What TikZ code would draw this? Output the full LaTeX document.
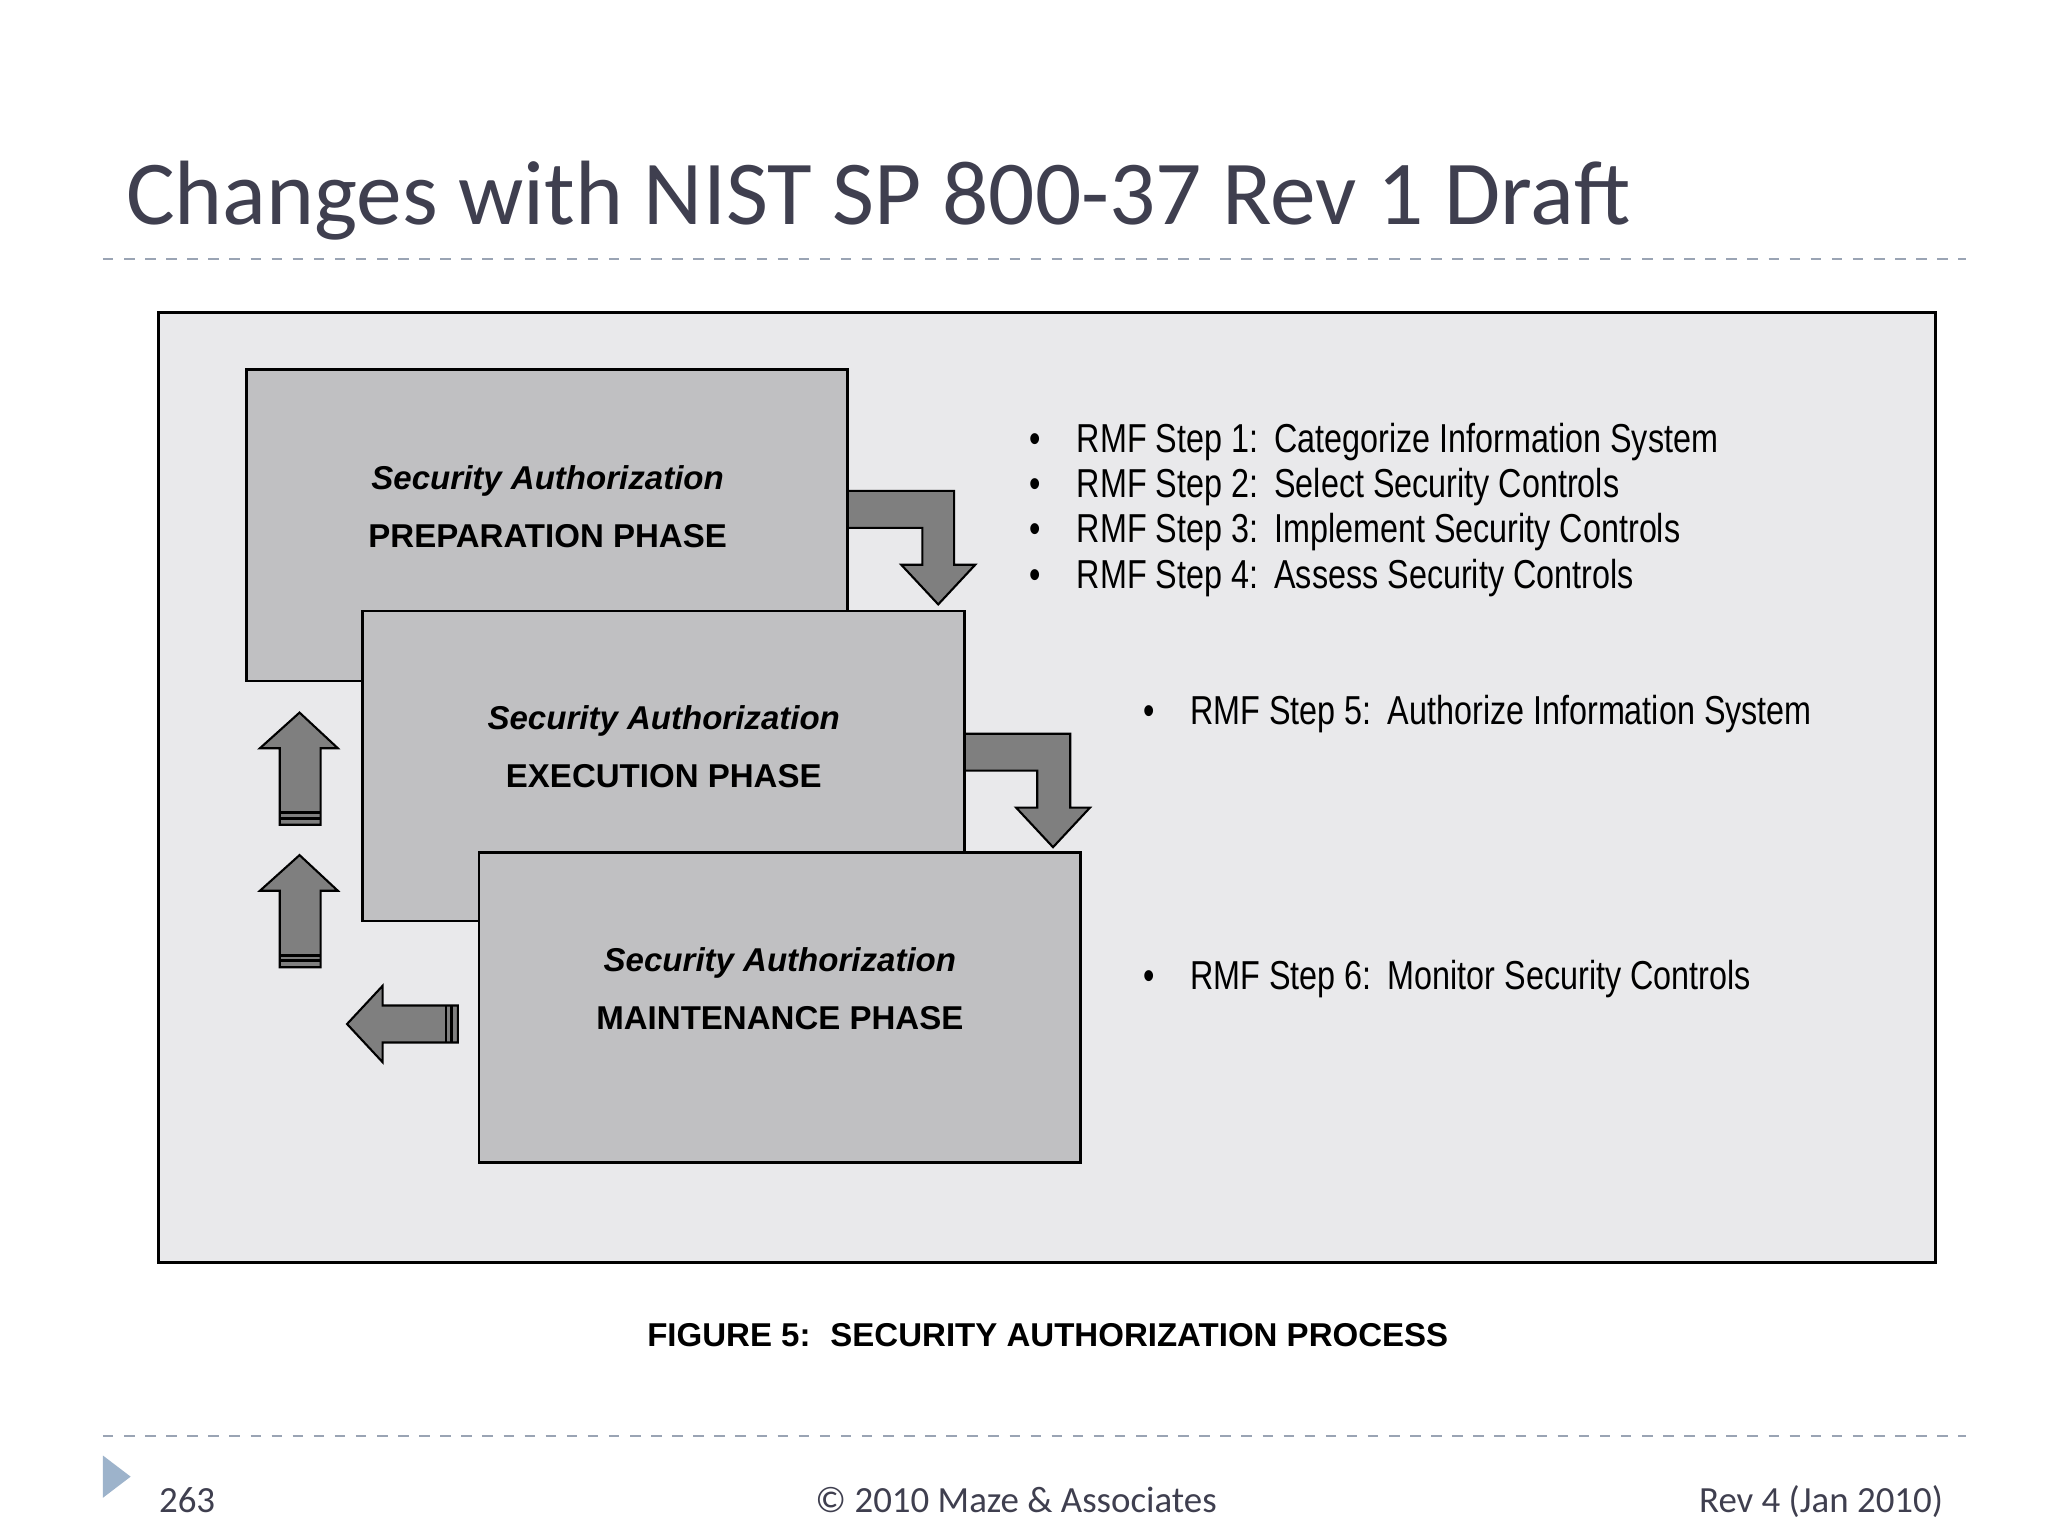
\documentclass[tikz,border=0pt]{standalone}
\usepackage{fontspec}
\setmainfont{Liberation Sans}
\newfontfamily\carl{Carlito}
\definecolor{titlec}{HTML}{3F3F4F}
\definecolor{framebg}{HTML}{E9E9EB}
\definecolor{boxbg}{HTML}{C0C0C2}
\definecolor{arrowc}{HTML}{7F7F7F}
\definecolor{dashc}{HTML}{9AA4B4}
\definecolor{tric}{HTML}{9DB3CB}
\begin{document}
\begin{tikzpicture}[x=0.0132cm,y=-0.0132cm,
  phase/.style={draw=black,fill=boxbg,line width=0.8pt},
  arr/.style={draw=black,fill=arrowc,line width=0.6pt,line join=miter},
  boxt/.style={font=\fontsize{9.4}{11}\selectfont\bfseries\itshape,anchor=base},
  boxp/.style={font=\fontsize{9.4}{11}\selectfont\bfseries,anchor=base},
  bul/.style={font=\fontsize{11.5}{13}\selectfont,anchor=base west,xscale=0.8,transform shape,inner sep=0pt},
  foot/.style={font=\carl\fontsize{10.5}{12}\selectfont,text=titlec,anchor=base,inner sep=0pt},
  dl/.style={draw=dashc,dashed,line width=0.5pt}]
\useasboundingbox (0,0) rectangle (1552,1164);
\fill[white] (0,0) rectangle (1552,1164);
\node[font=\carl\fontsize{26}{30}\selectfont,text=titlec,anchor=base west,inner sep=0pt] (title) at (95,170) {Changes with NIST SP 800-37 Rev 1 Draft};
\draw[dl] (78,196) -- (1490,196);
\draw[dl] (78,1088) -- (1490,1088);
\draw[fill=framebg,line width=0.8pt] (120,237) rectangle (1467,957);
% arrows between boxes
\draw[arr] (642,372) -- (723,372) -- (723,428) -- (739,428) -- (711,458) -- (683,428) -- (699,428) -- (699,400) -- (642,400) -- cycle;
\draw[arr] (731,556) -- (811,556) -- (811,612) -- (826,612) -- (798,642) -- (770,612) -- (786,612) -- (786,584) -- (731,584) -- cycle;
% boxes
\draw[phase] (187,280) rectangle (642,516);
\draw[phase] (275,463) rectangle (731,698);
\draw[phase] (363,646) rectangle (819,881);
\node[boxt] (p1) at (415,371) {Security Authorization};
\node[boxp] (p2) at (415,415) {PREPARATION PHASE};
\node[boxt] (e1) at (503,553) {Security Authorization};
\node[boxp] (e2) at (503,597) {EXECUTION PHASE};
\node[boxt] (m1) at (591,736) {Security Authorization};
\node[boxp] (m2) at (591,780) {MAINTENANCE PHASE};
% up arrows
\foreach \t in {540,648}{
  \draw[arr] (227,\t) -- (256,\t+27) -- (243,\t+27) -- (243,\t+85) -- (212,\t+85) -- (212,\t+27) -- (197,\t+27) -- cycle;
  \draw[black,line width=0.8pt] (212,\t+76) -- (243,\t+76) (212,\t+80) -- (243,\t+80);
}
% left arrow
\draw[arr] (263,776) -- (290,747) -- (290,762) -- (347,762) -- (347,790) -- (290,790) -- (290,805) -- cycle;
\draw[black,line width=0.8pt] (338,762) -- (338,790) (342,762) -- (342,790);
% bullets
\foreach \y/\n/\t in {343/1/Categorize Information System,377/2/Select Security Controls,411/3/Implement Security Controls,446/4/Assess Security Controls}{
  \node[bul] (b\n) at (780,\y) {\textbullet\hspace{1.1em}RMF Step \n:\hspace{0.5em}\t};
}
\node[bul] (b5) at (866,549) {\textbullet\hspace{1.1em}RMF Step 5:\hspace{0.5em}Authorize Information System};
\node[bul] (b6) at (866,750) {\textbullet\hspace{1.1em}RMF Step 6:\hspace{0.5em}Monitor Security Controls};
\node[font=\fontsize{9.4}{11}\selectfont\bfseries,anchor=base,inner sep=0pt] (cap) at (794,1020) {FIGURE 5:\hspace{0.6em}SECURITY AUTHORIZATION PROCESS};
% footer
\fill[tric] (78,1103) -- (99,1119) -- (78,1135) -- cycle;
\node[foot,anchor=base west] (pg) at (120,1146) {263};
\node[foot] (cp) at (770,1146) {© 2010 Maze \& Associates};
\node[foot,anchor=base east] (rev) at (1473,1146) {Rev 4 (Jan 2010)};
\end{tikzpicture}
\end{document}
